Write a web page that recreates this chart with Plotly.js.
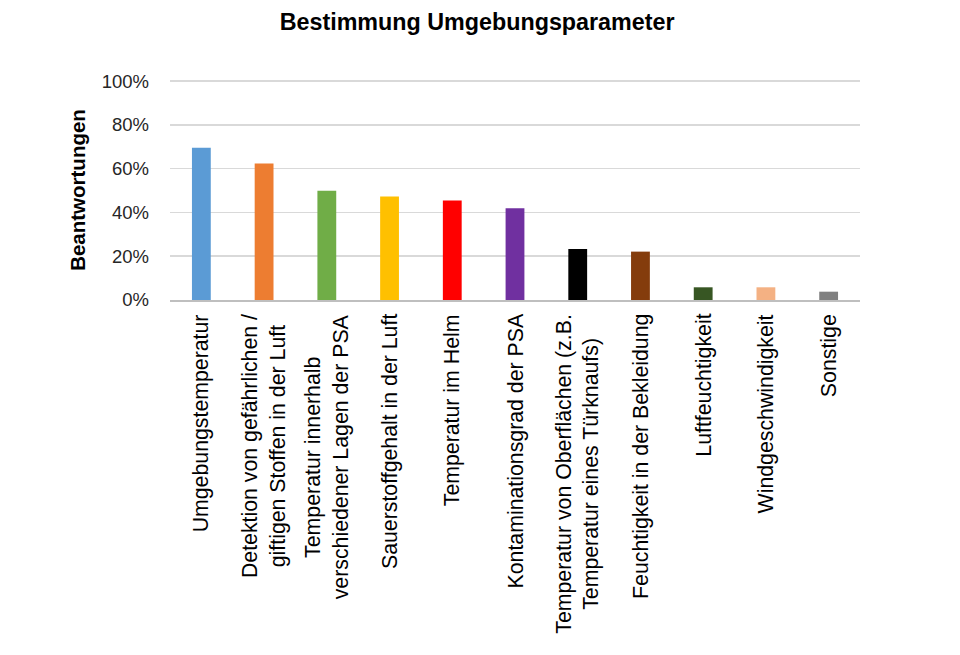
<!DOCTYPE html>
<html><head><meta charset="utf-8">
<script src="https://cdn.plot.ly/plotly-3.0.1.min.js"></script>
<style>body{margin:0;background:#fff}#c{width:960px;height:655px}</style>
</head><body><div id="c"></div>
<script>
const categories = [
  "Umgebungstemperatur",
  "Detektion von gefährlichen /<br>giftigen Stoffen in der Luft",
  "Temperatur innerhalb<br>verschiedener Lagen der PSA",
  "Sauerstoffgehalt in der Luft",
  "Temperatur im Helm",
  "Kontaminationsgrad der PSA",
  "Temperatur von Oberflächen (z.B.<br>Temperatur eines Türknaufs)",
  "Feuchtigkeit in der Bekleidung",
  "Luftfeuchtigkeit",
  "Windgeschwindigkeit",
  "Sonstige"
];
const values = [0.695, 0.624, 0.499, 0.473, 0.455, 0.419, 0.233, 0.221, 0.058, 0.058, 0.038];
const colors = ["#5B9BD5","#ED7D31","#70AD47","#FFC000","#FF0000","#7030A0","#000000","#843C0C","#375623","#F4B183","#808080"];
const yTickVals = [0, 0.2, 0.4, 0.6, 0.8, 1.0];

const labelAnnotations = categories.map(c => ({
  x: c, xref: 'x', y: 0, yref: 'paper', yanchor: 'top', xanchor: 'center',
  yshift: -12, text: c, textangle: -90, align: 'center', showarrow: false,
  font: {size: 21.3, color: '#000', family: 'Liberation Sans, Arial, sans-serif'}
}));

Plotly.newPlot('c', [{
  type: 'bar', x: categories, y: values,
  marker: {color: colors}, hoverinfo: 'none'
}], {
  width: 960, height: 655,
  paper_bgcolor: '#fff', plot_bgcolor: '#fff',
  font: {family: 'Liberation Sans, Arial, sans-serif', color: '#262626'},
  title: {text: '<b>Bestimmung Umgebungsparameter</b>', x: 0.497, xanchor: 'center', y: 0.966, yanchor: 'middle', font: {size: 23.3, color: '#000'}},
  margin: {l: 170, r: 100, t: 80, b: 355},
  bargap: 0.7,
  showlegend: false,
  annotations: labelAnnotations,
  xaxis: {
    showticklabels: false,
    showline: true, linecolor: '#bfbfbf', linewidth: 1.5, ticks: '', automargin: false
  },
  yaxis: {
    range: [0, 1.005], tickvals: yTickVals, tickformat: '.0%',
    tickfont: {size: 18.5, color: '#262626'}, gridcolor: '#d9d9d9', gridwidth: 1.5,
    zeroline: false, showline: false, ticks: '', ticklabelstandoff: 20,
    title: {text: '<b>Beantwortungen</b>', font: {size: 20.5, color: '#000'}, standoff: 10},
    automargin: false
  }
}, {staticPlot: true});
</script></body></html>
